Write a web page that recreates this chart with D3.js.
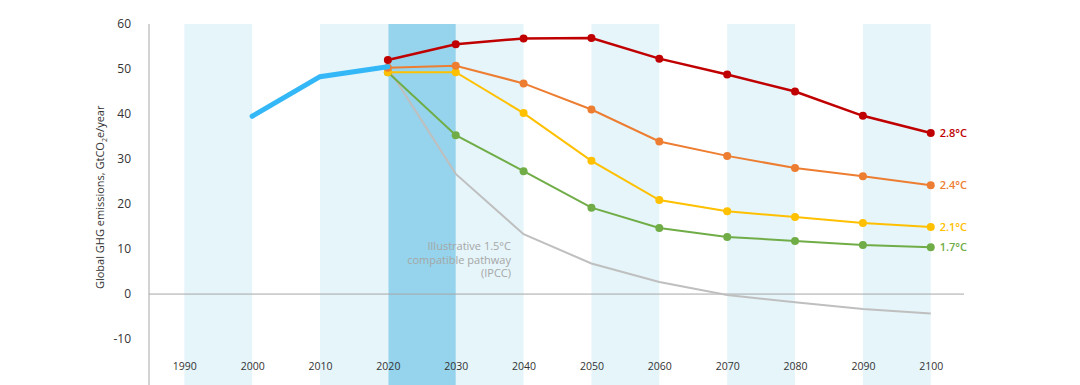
<!DOCTYPE html>
<html>
<head>
<meta charset="utf-8">
<script src="https://cdn.jsdelivr.net/npm/d3@7"></script>
<style>
    body { margin: 0; background: #fff; }
    svg { display: block; font-family: "Open Sans", sans-serif; }
</style>
</head>
<body>
<div id="chart"></div>
<script>
const years = [2020, 2030, 2040, 2050, 2060, 2070, 2080, 2090, 2100]
const historyYears = [2000, 2010, 2020]
const historyValues = [39.5, 48.3, 50.5]

const scenario28 = [52.0, 55.5, 56.8, 56.9, 52.3, 48.8, 45.0, 39.6, 35.8]
const scenario24 = [50.3, 50.7, 46.8, 41.0, 33.9, 30.7, 28.0, 26.2, 24.2]
const scenario21 = [49.3, 49.3, 40.2, 29.6, 20.9, 18.4, 17.1, 15.8, 14.9]
const scenario17 = [49.3, 35.3, 27.3, 19.2, 14.7, 12.7, 11.8, 10.9, 10.4]
const ipcc15 = [50.3, 26.7, 13.3, 6.8, 2.7, -0.2, -1.8, -3.3, -4.3]

const xTicks = [1990, 2000, 2010, 2020, 2030, 2040, 2050, 2060, 2070, 2080, 2090, 2100]
const yTicks = [-10, 0, 10, 20, 30, 40, 50, 60]
const lightBands = [[1990, 2000], [2010, 2020], [2030, 2040], [2050, 2060], [2070, 2080], [2090, 2100]]
const darkBand = [2020, 2030]

const scenarios = [
    { label: `2.8°C`, values: scenario28, color: `#c00000`, width: 2.5 },
    { label: `2.4°C`, values: scenario24, color: `#ed7d31`, width: 2 },
    { label: `2.1°C`, values: scenario21, color: `#ffc000`, width: 2 },
    { label: `1.7°C`, values: scenario17, color: `#70ad47`, width: 2 }
]

const width = 1080, height = 385

const x = d3.scaleLinear().domain([1984.8, 2104.9]).range([149, 964])
const y = d3.scaleLinear().domain([-20.2, 60]).range([385, 24])

const svg = d3.select(`#chart`).append(`svg`).attr(`width`, width).attr(`height`, height)

// background decade bands
svg.append(`g`).selectAll(`rect`).data(lightBands).join(`rect`)
    .attr(`x`, d => x(d[0])).attr(`width`, d => x(d[1]) - x(d[0]))
    .attr(`y`, y(60)).attr(`height`, height - y(60))
    .attr(`fill`, `#e5f5fa`)

svg.append(`rect`)
    .attr(`x`, x(darkBand[0]) + 0.5).attr(`width`, x(darkBand[1]) - x(darkBand[0]) - 0.5)
    .attr(`y`, y(60)).attr(`height`, height - y(60))
    .attr(`fill`, `#95d4ec`)

// zero line and y axis line
svg.append(`line`).attr(`x1`, x.range()[0]).attr(`x2`, x.range()[1])
    .attr(`y1`, y(0)).attr(`y2`, y(0)).attr(`stroke`, `#a6a6a6`).attr(`stroke-width`, 1)
svg.append(`line`).attr(`x1`, x.range()[0]).attr(`x2`, x.range()[0])
    .attr(`y1`, y(60)).attr(`y2`, height).attr(`stroke`, `#a6a6a6`).attr(`stroke-width`, 1)

// y ticks (plain hyphen for negatives, as in the original)
const yAxis = d3.axisLeft(y).tickValues(yTicks).tickFormat(d => String(d)).tickSize(0).tickPadding(18)
svg.append(`g`).attr(`transform`, `translate(${x.range()[0]},0)`).call(yAxis)
    .call(g => g.select(`.domain`).remove())
    .call(g => g.selectAll(`text`).attr(`font-size`, 12).attr(`fill`, `#333`).attr(`font-family`, `"Open Sans", sans-serif`))

// x ticks, drawn inside the plot near the bottom
const xAxis = d3.axisBottom(x).tickValues(xTicks).tickFormat(d3.format(`d`)).tickSize(0)
svg.append(`g`).attr(`transform`, `translate(0,360)`).call(xAxis)
    .call(g => g.select(`.domain`).remove())
    .call(g => g.selectAll(`text`).attr(`font-size`, 10.5).attr(`fill`, `#333`).attr(`font-family`, `"Open Sans", sans-serif`))

// y axis title
const title = svg.append(`text`)
    .attr(`transform`, `translate(104,${y(21.5)}) rotate(-90)`)
    .attr(`text-anchor`, `middle`).attr(`font-size`, 11).attr(`fill`, `#333`)
title.append(`tspan`).text(`Global GHG emissions, GtCO`)
title.append(`tspan`).text(`2`).attr(`font-size`, 7).attr(`dy`, 3)
title.append(`tspan`).text(`e/year`).attr(`dy`, -3)

const line = d3.line().x(d => x(d[0])).y(d => y(d[1]))

// IPCC pathway
svg.append(`path`).attr(`d`, line(d3.zip(years, ipcc15)))
    .attr(`fill`, `none`).attr(`stroke`, `#bfbfbf`).attr(`stroke-width`, 2)

const note = svg.append(`text`).attr(`text-anchor`, `end`).attr(`font-size`, 11).attr(`fill`, `#a6a6a6`)
    ;[`Illustrative 1.5°C`, `compatible pathway`, `(IPCC)`].forEach((t, i) => {
        note.append(`tspan`).attr(`x`, 511).attr(`y`, 250 + i * 13.5).text(t)
    })

// scenarios, drawn lowest first
scenarios.slice().reverse().forEach(s => {
    const pts = d3.zip(years, s.values)
    const g = svg.append(`g`)
    g.append(`path`).attr(`d`, line(pts)).attr(`fill`, `none`).attr(`stroke`, s.color).attr(`stroke-width`, s.width)
    g.selectAll(`circle`).data(pts).join(`circle`)
        .attr(`cx`, d => x(d[0])).attr(`cy`, d => y(d[1])).attr(`r`, 4).attr(`fill`, s.color)
    g.append(`text`).attr(`x`, x(2100) + 9).attr(`y`, y(s.values[s.values.length - 1]) + 4)
        .attr(`font-size`, 11).attr(`font-weight`, 600).attr(`fill`, s.color).text(s.label)
})

// historical emissions
svg.append(`path`).attr(`d`, line(d3.zip(historyYears, historyValues)))
    .attr(`fill`, `none`).attr(`stroke`, `#33b7f6`).attr(`stroke-width`, 5).attr(`stroke-linecap`, `round`)
</script>
</body>
</html>
